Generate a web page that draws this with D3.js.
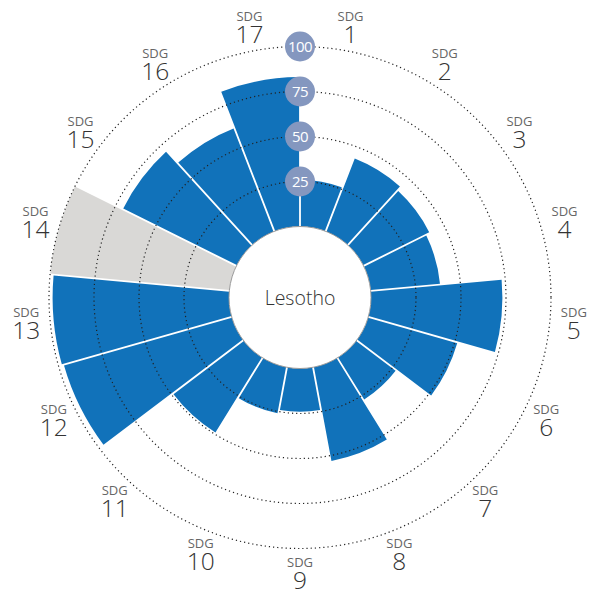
<!DOCTYPE html>
<html>
<head>
<meta charset="utf-8">
<script src="https://cdn.jsdelivr.net/npm/d3@7"></script>
<style>
  body { margin: 0; background: #fff; }
  svg { display: block; font-family: "Open Sans", sans-serif; }
</style>
</head>
<body>
<svg class="chart" width="598" height="594"></svg>
<script>
const country = "Lesotho";
const goals = ["1", "2", "3", "4", "5", "6", "7", "8", "9", "10", "11", "12", "13", "14", "15", "16", "17"];
const scores = [26, 43.5, 41, 38.7, 73, 51.5, 27.5, 53, 24, 26, 49, 97, 98, 100, 70.5, 61.5, 83];
// goals without data are drawn full and grey
const noData = ["14"];
const ticks = [25, 50, 75, 100];

const cx = 300;
const cy = 297.5;
const innerRadius = 71;
const outerRadius = 251;

const svg = d3.select(".chart");
const chart = svg.append("g").attr("transform", `translate(${cx}, ${cy})`);

// angle of each goal, clockwise from the top
const xScale = d3.scaleBand().domain(goals).range([0, 2 * Math.PI]);

// radius of each score
const yScale = d3.scaleLinear().domain([0, 100]).range([innerRadius, outerRadius]);

const arc = d3
  .arc()
  .innerRadius(innerRadius)
  .outerRadius(d => yScale(d.score))
  .startAngle(d => xScale(d.goal))
  .endAngle(d => xScale(d.goal) + xScale.bandwidth())
  .padAngle(0.012)
  .padRadius(150);

const data = goals.map((g, i) => ({ goal: g, score: scores[i] }));

// Draw the bars
chart
  .selectAll(".bar")
  .data(data)
  .enter()
  .append("path")
  .attr("class", "bar")
  .attr("d", arc)
  .attr("fill", d => (noData.includes(d.goal) ? "#d9d8d6" : "#1172ba"));

// Dotted rings on top of the bars
chart
  .selectAll(".ring")
  .data(ticks)
  .enter()
  .append("circle")
  .attr("r", d => yScale(d))
  .attr("fill", "none")
  .attr("stroke", "#222")
  .attr("stroke-width", 1.2)
  .attr("stroke-dasharray", "1.2 3");

// Centre disc with the country name
chart
  .append("circle")
  .attr("r", innerRadius)
  .attr("fill", "#fff")
  .attr("stroke", "#9a9a9a")
  .attr("stroke-width", 1);

chart
  .append("text")
  .attr("text-anchor", "middle")
  .attr("y", 7)
  .style("font-size", "19.5px")
  .style("font-weight", 300)
  .style("fill", "#333")
  .text(country);

// Tick badges along the top
const badge = chart
  .selectAll(".badge")
  .data(ticks)
  .enter()
  .append("g")
  .attr("transform", d => `translate(0, ${-yScale(d)})`);

badge.append("circle").attr("r", 15).attr("fill", "#8497bf");

badge
  .append("text")
  .attr("text-anchor", "middle")
  .attr("dy", "0.36em")
  .style("font-size", "15px")
  .style("letter-spacing", "-0.6px")
  .style("fill", "#fff")
  .text(d => d);

// Goal labels round the outside
const labelRadius = 275;
const label = chart
  .selectAll(".label")
  .data(goals)
  .enter()
  .append("text")
  .attr("text-anchor", "middle")
  .attr("transform", g => {
    const a = xScale(g) + xScale.bandwidth() / 2;
    return `translate(${labelRadius * Math.sin(a)}, ${-labelRadius * Math.cos(a)})`;
  });

label
  .append("tspan")
  .attr("x", 0)
  .attr("y", -6)
  .style("font-size", "13px")
  .style("fill", "#666")
  .text("SDG");

label
  .append("tspan")
  .attr("x", 0)
  .attr("y", 16)
  .style("font-size", "24.5px")
  .style("font-weight", 300)
  .style("fill", "#333")
  .text(g => g);
</script>
</body>
</html>
